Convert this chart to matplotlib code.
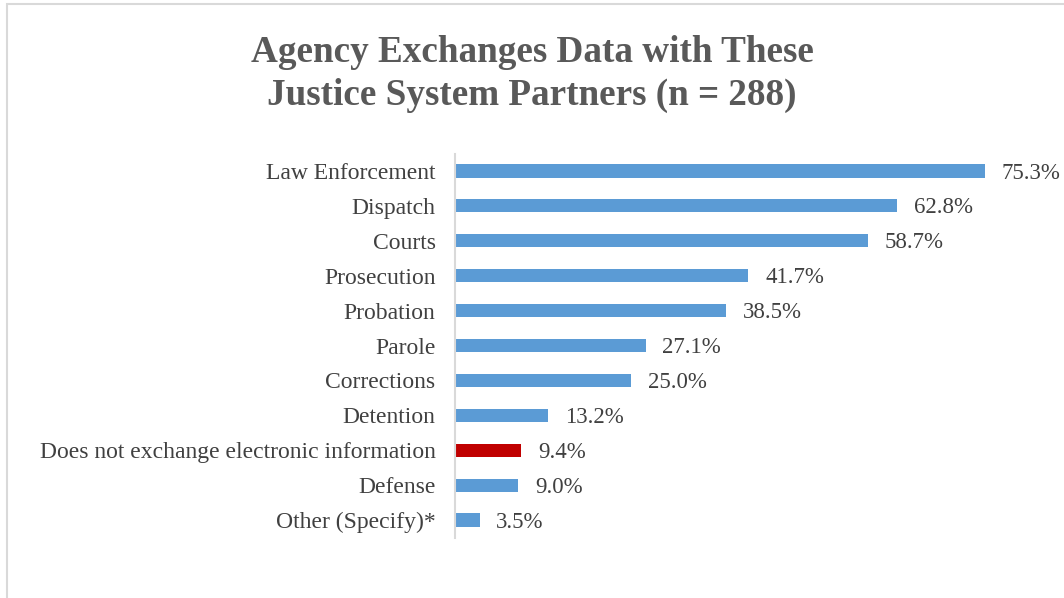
import matplotlib
matplotlib.use("Agg")
import matplotlib.pyplot as plt
from matplotlib.patches import Rectangle

categories = ["Law Enforcement", "Dispatch", "Courts", "Prosecution", "Probation",
              "Parole", "Corrections", "Detention",
              "Does not exchange electronic information", "Defense", "Other (Specify)*"]
values = [75.3, 62.8, 58.7, 41.7, 38.5, 27.1, 25.0, 13.2, 9.4, 9.0, 3.5]
labels = ["75.3%", "62.8%", "58.7%", "41.7%", "38.5%", "27.1%", "25.0%", "13.2%",
          "9.4%", "9.0%", "3.5%"]
highlight = "Does not exchange electronic information"

plt.rcParams['font.family'] = ['Liberation Serif', 'DejaVu Serif']

fig = plt.figure(figsize=(10.64, 5.98), dpi=100)
fig.patch.set_facecolor("white")
fig.add_artist(Rectangle((6.5/1064, -0.1), 1.2, 1.1 - 4.5/598, transform=fig.transFigure,
                         fill=False, edgecolor="#D9D9D9", linewidth=1.5))

ax = fig.add_axes([455/1064, (598-537.5)/598, 563/1064, 384/598])
n = len(categories)
ypos = list(range(n))[::-1]
colors = ["#C00000" if c == highlight else "#5B9BD5" for c in categories]
ax.barh(ypos, values, height=0.38, color=colors)
ax.set_ylim(-0.5, n - 0.5)
ax.set_xlim(0, 80)
ax.set_yticks(ypos)
ax.set_yticklabels(categories, fontsize=17, color="#404040")
ax.tick_params(axis='y', length=0, pad=14)
ax.set_xticks([])
for s in ["top", "right", "bottom"]:
    ax.spines[s].set_visible(False)
ax.spines["left"].set_color("#D9D9D9")
ax.spines["left"].set_linewidth(1.5)
for y, v, t in zip(ypos, values, labels):
    ax.annotate(t, (v, y), xytext=(12, -1.5), textcoords="offset points",
                va="center", ha="left", fontsize=16.5, color="#404040")

fig.text(0.5, 1 - 74/598, "Agency Exchanges Data with These\nJustice System Partners (n = 288)",
         ha="center", va="center", fontsize=26.7, fontweight="bold", color="#595959",
         linespacing=1.27)

fig.savefig("out.png", dpi=100, facecolor="white")
